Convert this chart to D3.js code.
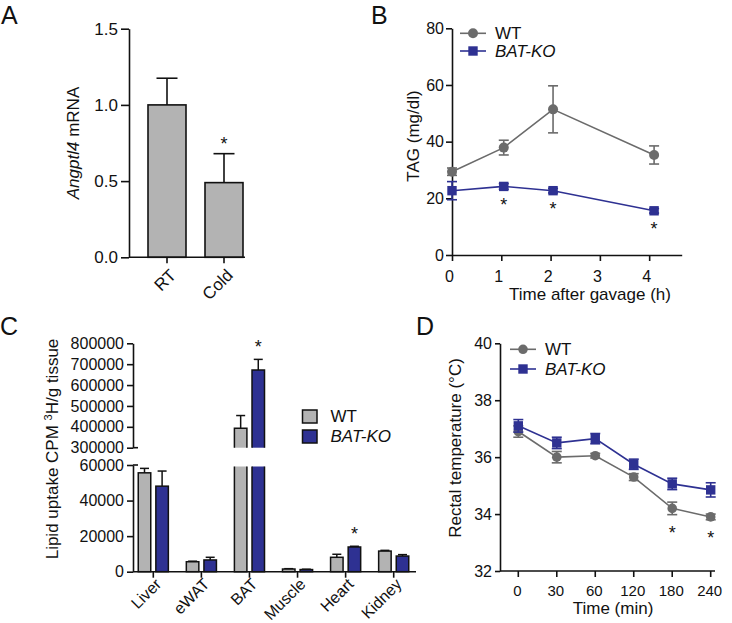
<!DOCTYPE html>
<html><head><meta charset="utf-8">
<script src="https://cdn.jsdelivr.net/npm/d3@7"></script>
<style>
body{margin:0;background:#fff}
text{font-family:"Liberation Sans",Arial,Helvetica,sans-serif;fill:#111}
</style>
</head><body>
<svg id="chart" width="732" height="623"></svg>
<script>
// ---------------- DATA ----------------
// Panel A
const aCategories = ["RT", "Cold"];
const aValues = [1.0, 0.49];
const aErrors = [0.175, 0.19];
const aSig = [false, true];
const aYTicks = [0, 0.5, 1.0, 1.5];

// Panel B
const bTimes = [0, 1.05, 2.05, 4.1];
const bWT = [29.4, 37.9, 51.4, 35.3];
const bWTerr = [1.3, 2.6, 8.3, 3.2];
const bKO = [22.7, 24.2, 22.7, 15.6];
const bKOerr = [3.2, 1.0, 0.8, 0.8];
const bSig = [false, true, true, true];
const bXTicks = [0, 1, 2, 3, 4];
const bYTicks = [0, 20, 40, 60, 80];

// Panel C
const cTissues = ["Liver", "eWAT", "BAT", "Muscle", "Heart", "Kidney"];
const cWT = [55600, 5600, 393000, 1500, 8100, 11600];
const cWTerr = [2500, 300, 61000, 200, 1700, 400];
const cKO = [48100, 6600, 672000, 1200, 13900, 8800];
const cKOerr = [8500, 1500, 51000, 200, 400, 800];
const cSig = [false, false, true, false, true, false];
const cYTicksLow = [0, 20000, 40000, 60000];
const cYTicksHigh = [300000, 400000, 500000, 600000, 700000, 800000];

// Panel D
const dTimes = ["0", "30", "60", "120", "180", "240"];
const dWT = [36.9, 36.0, 36.05, 35.3, 34.2, 33.9];
const dWTerr = [0.2, 0.2, 0.08, 0.12, 0.22, 0.1];
const dKO = [37.1, 36.5, 36.65, 35.75, 35.06, 34.85];
const dKOerr = [0.22, 0.2, 0.18, 0.18, 0.2, 0.25];
const dSig = [false, false, false, false, true, true];
const dYTicks = [32, 34, 36, 38, 40];

const seriesNames = ["WT", "BAT-KO"];

// ---------------- STYLE ----------------
const GRAY_BAR = "#b3b3b3";
const BLUE = "#2e3192";
const GRAY_LINE = "#6b6b6b";
const TICK_FS = 16, TITLE_FS = 17, LEG_FS = 17;

const svg = d3.select("#chart");

function styleAxis(g, fs) {
  g.select(".domain").attr("stroke", "#111").attr("stroke-width", 1.6);
  g.selectAll(".tick line").attr("stroke", "#111").attr("stroke-width", 1.6);
  g.selectAll(".tick text").attr("font-size", fs || TICK_FS)
    .attr("font-family", '"Liberation Sans",Arial,sans-serif').attr("fill", "#111");
}
function panelLabel(t, x, y) {
  svg.append("text").attr("x", x).attr("y", y).attr("font-size", 25).text(t);
}
function yTitle(x, y, parts) {
  const t = svg.append("text").attr("transform", `translate(${x},${y}) rotate(-90)`)
    .attr("text-anchor", "middle").attr("font-size", TITLE_FS);
  parts.forEach(p => {
    const s = t.append("tspan").text(p.t);
    if (p.i) s.attr("font-style", "italic");
    if (p.sup) s.attr("font-size", 11).attr("baseline-shift", "super");
  });
}
function star(x, y) {
  svg.append("text").attr("x", x).attr("y", y).attr("text-anchor", "middle")
    .attr("font-size", 18).text("*");
}

// ---------------- PANEL A ----------------
panelLabel("A", 1, 24);
{
  const y = d3.scaleLinear().domain([0, 1.5]).range([257.3, 28.7]);
  const x = d3.scalePoint().domain(aCategories).range([167, 224]);
  const bw = 38;
  const gx = 129, xEnd = 245;
  aCategories.forEach((c, i) => {
    svg.append("rect").attr("x", x(c) - bw / 2).attr("y", y(aValues[i]))
      .attr("width", bw).attr("height", y(0) - y(aValues[i]))
      .attr("fill", GRAY_BAR).attr("stroke", "#111").attr("stroke-width", 1.6);
    const top = y(aValues[i] + aErrors[i]);
    svg.append("line").attr("x1", x(c)).attr("x2", x(c)).attr("y1", y(aValues[i])).attr("y2", top)
      .attr("stroke", "#111").attr("stroke-width", 1.6);
    svg.append("line").attr("x1", x(c) - 10.5).attr("x2", x(c) + 10.5).attr("y1", top).attr("y2", top)
      .attr("stroke", "#111").attr("stroke-width", 1.6);
    if (aSig[i]) star(x(c), top - 4);
  });
  const ya = svg.append("g").attr("transform", `translate(${gx},0)`)
    .call(d3.axisLeft(y).tickValues(aYTicks).tickFormat(d3.format(".1f")).tickSize(8).tickSizeOuter(0).tickPadding(3));
  styleAxis(ya, 17);
  svg.append("line").attr("x1", gx).attr("x2", xEnd).attr("y1", y(0)).attr("y2", y(0))
    .attr("stroke", "#111").attr("stroke-width", 1.6);
  aCategories.forEach(c => {
    svg.append("line").attr("x1", x(c)).attr("x2", x(c)).attr("y1", y(0)).attr("y2", y(0) + 6)
      .attr("stroke", "#111").attr("stroke-width", 1.6);
    svg.append("text").attr("transform", `translate(${x(c) + 10},${y(0) + 19}) rotate(-45)`)
      .attr("text-anchor", "end").attr("font-size", 17).text(c);
  });
  yTitle(79, 143, [{t: "Angptl4", i: true}, {t: " mRNA"}]);
}

// ---------------- LINE PANEL helpers ----------------
function errLine(x, ylo, yhi, color, cap) {
  svg.append("line").attr("x1", x).attr("x2", x).attr("y1", ylo).attr("y2", yhi)
    .attr("stroke", color).attr("stroke-width", 1.6);
  [ylo, yhi].forEach(v => svg.append("line").attr("x1", x - cap).attr("x2", x + cap)
    .attr("y1", v).attr("y2", v).attr("stroke", color).attr("stroke-width", 1.6));
}
function drawSeries(xs, vals, errs, x, y, color, shape, r, cap) {
  const line = d3.line().x((d, i) => x(xs[i])).y(d => y(d));
  svg.append("path").datum(vals).attr("d", line).attr("fill", "none")
    .attr("stroke", color).attr("stroke-width", 1.6);
  vals.forEach((v, i) => errLine(x(xs[i]), y(v - errs[i]), y(v + errs[i]), color, cap));
  vals.forEach((v, i) => {
    if (shape === "circle") {
      svg.append("circle").attr("cx", x(xs[i])).attr("cy", y(v)).attr("r", r).attr("fill", color);
    } else {
      svg.append("rect").attr("x", x(xs[i]) - r).attr("y", y(v) - r)
        .attr("width", 2 * r).attr("height", 2 * r).attr("fill", color);
    }
  });
}
function lineLegend(x0, y0, gap, r1, r2) {
  const items = [{n: seriesNames[0], c: GRAY_LINE, s: "circle", r: r1, i: false},
                 {n: seriesNames[1], c: BLUE, s: "rect", r: r2, i: true}];
  items.forEach((it, k) => {
    const yy = y0 + k * gap;
    svg.append("line").attr("x1", x0).attr("x2", x0 + 26).attr("y1", yy).attr("y2", yy)
      .attr("stroke", it.c).attr("stroke-width", 1.6);
    if (it.s === "circle") svg.append("circle").attr("cx", x0 + 13).attr("cy", yy).attr("r", it.r).attr("fill", it.c);
    else svg.append("rect").attr("x", x0 + 13 - it.r).attr("y", yy - it.r).attr("width", 2 * it.r).attr("height", 2 * it.r).attr("fill", it.c);
    svg.append("text").attr("x", x0 + 35).attr("y", yy + 6).attr("font-size", LEG_FS)
      .attr("font-style", it.i ? "italic" : "normal").text(it.n);
  });
}

// ---------------- PANEL B ----------------
panelLabel("B", 371, 24);
{
  const x = d3.scaleLinear().domain([0, 4.66]).range([452, 681.7]);
  const y = d3.scaleLinear().domain([0, 80]).range([255, 28.3]);
  const ya = svg.append("g").attr("transform", `translate(452,0)`)
    .call(d3.axisLeft(y).tickValues(bYTicks).tickSize(6).tickSizeOuter(0).tickPadding(2));
  styleAxis(ya);
  const xa = svg.append("g").attr("transform", `translate(0,255)`)
    .call(d3.axisBottom(x).tickValues(bXTicks).tickFormat(d3.format("d")).tickSize(6).tickSizeOuter(0).tickPadding(10));
  styleAxis(xa);
  xa.selectAll(".tick text").attr("dx", -3);
  drawSeries(bTimes, bWT, bWTerr, x, y, GRAY_LINE, "circle", 5, 5);
  drawSeries(bTimes, bKO, bKOerr, x, y, BLUE, "rect", 4.7, 5);
  bTimes.forEach((t, i) => { if (bSig[i]) star(x(t), y(bKO[i] - bKOerr[i]) + 22); });
  lineLegend(460, 33.3, 17.7, 5, 4.7);
  yTitle(419, 136, [{t: "TAG (mg/dl)"}]);
  svg.append("text").attr("x", 590).attr("y", 300).attr("text-anchor", "middle")
    .attr("font-size", TITLE_FS).text("Time after gavage (h)");
}

// ---------------- PANEL C ----------------
panelLabel("C", 0, 335);
{
  const yLow = d3.scaleLinear().domain([0, 60000]).range([571.7, 465]);
  const yHigh = d3.scaleLinear().domain([300000, 800000]).range([447.7, 343.3]);
  const x = d3.scalePoint().domain(cTissues).range([153.3, 393.7]);
  const gx = 133, xEnd = 416;
  const bw = 12.5, off = 8.8;
  const yv = v => v <= 60000 ? yLow(v) : yHigh(v);

  function bar(cx, v, fill) {
    const l = cx - bw / 2, r = cx + bw / 2;
    if (v <= 60000) {
      svg.append("rect").attr("x", l).attr("y", yLow(v)).attr("width", bw).attr("height", yLow(0) - yLow(v))
        .attr("fill", fill).attr("stroke", "#111").attr("stroke-width", 1.5);
    } else {
      svg.append("rect").attr("x", l).attr("y", yLow(60000) + 1.5).attr("width", bw)
        .attr("height", yLow(0) - yLow(60000) - 1.5).attr("fill", fill);
      svg.append("path").attr("d", `M${l},${yLow(60000) + 1.5}V${yLow(0)}H${r}V${yLow(60000) + 1.5}`)
        .attr("fill", "none").attr("stroke", "#111").attr("stroke-width", 1.5);
      svg.append("rect").attr("x", l).attr("y", yHigh(v)).attr("width", bw)
        .attr("height", yHigh(300000) - yHigh(v)).attr("fill", fill);
      svg.append("path").attr("d", `M${l},${yHigh(300000)}V${yHigh(v)}H${r}V${yHigh(300000)}`)
        .attr("fill", "none").attr("stroke", "#111").attr("stroke-width", 1.5);
    }
  }
  function errUp(cx, v, e) {
    if (e <= 0) return;
    const t = yv(v + e);
    svg.append("line").attr("x1", cx).attr("x2", cx).attr("y1", yv(v)).attr("y2", t)
      .attr("stroke", "#111").attr("stroke-width", 1.5);
    svg.append("line").attr("x1", cx - 4.5).attr("x2", cx + 4.5).attr("y1", t).attr("y2", t)
      .attr("stroke", "#111").attr("stroke-width", 1.5);
  }
  cTissues.forEach((c, i) => {
    errUp(x(c) - off, cWT[i], cWTerr[i]);
    errUp(x(c) + off, cKO[i], cKOerr[i]);
    bar(x(c) - off, cWT[i], GRAY_BAR);
    bar(x(c) + off, cKO[i], BLUE);
    if (cSig[i]) star(x(c) + off, yv(cKO[i] + cKOerr[i]) - 6);
  });
  const fmt = d3.format("d");
  const ya1 = svg.append("g").attr("transform", `translate(${gx},0)`)
    .call(d3.axisLeft(yLow).tickValues(cYTicksLow).tickFormat(fmt).tickSize(6).tickSizeOuter(0).tickPadding(3));
  styleAxis(ya1);
  const ya2 = svg.append("g").attr("transform", `translate(${gx},0)`)
    .call(d3.axisLeft(yHigh).tickValues(cYTicksHigh).tickFormat(fmt).tickSize(6).tickSizeOuter(0).tickPadding(3));
  styleAxis(ya2);
  [yLow(60000), yHigh(300000)].forEach(v => svg.append("line").attr("x1", gx).attr("x2", gx + 5)
    .attr("y1", v).attr("y2", v).attr("stroke", "#111").attr("stroke-width", 1.6));
  svg.append("line").attr("x1", gx).attr("x2", xEnd).attr("y1", yLow(0)).attr("y2", yLow(0))
    .attr("stroke", "#111").attr("stroke-width", 1.6);
  cTissues.forEach(c => {
    svg.append("line").attr("x1", x(c)).attr("x2", x(c)).attr("y1", yLow(0)).attr("y2", yLow(0) + 6)
      .attr("stroke", "#111").attr("stroke-width", 1.6);
    svg.append("text").attr("transform", `translate(${x(c) + 9},${yLow(0) + 13.5}) rotate(-45)`)
      .attr("text-anchor", "end").attr("font-size", 16).text(c);
  });
  [[seriesNames[0], GRAY_BAR, false], [seriesNames[1], BLUE, true]].forEach((it, k) => {
    svg.append("rect").attr("x", 302.5).attr("y", 410 + k * 20).attr("width", 14.5).attr("height", 13)
      .attr("fill", it[1]).attr("stroke", "#111").attr("stroke-width", 1.5);
    svg.append("text").attr("x", 330.5).attr("y", 422 + k * 20).attr("font-size", LEG_FS)
      .attr("font-style", it[2] ? "italic" : "normal").text(it[0]);
  });
  yTitle(57.5, 449, [{t: "Lipid uptake CPM "}, {t: "3", sup: true}, {t: "H/g tissue"}]);
}

// ---------------- PANEL D ----------------
panelLabel("D", 416, 335);
{
  const x = d3.scalePoint().domain(dTimes).range([518.3, 710.7]);
  const y = d3.scaleLinear().domain([32, 40]).range([571, 343.3]);
  const ya = svg.append("g").attr("transform", `translate(500,0)`)
    .call(d3.axisLeft(y).tickValues(dYTicks).tickSize(5).tickSizeOuter(0).tickPadding(3));
  styleAxis(ya);
  svg.append("line").attr("x1", 500).attr("x2", 715).attr("y1", y(32)).attr("y2", y(32))
    .attr("stroke", "#111").attr("stroke-width", 1.6);
  dTimes.forEach(t => {
    svg.append("line").attr("x1", x(t)).attr("x2", x(t)).attr("y1", y(32)).attr("y2", y(32) + 6)
      .attr("stroke", "#111").attr("stroke-width", 1.6);
    svg.append("text").attr("x", x(t) - 1).attr("y", 595.5).attr("text-anchor", "middle")
      .attr("font-size", 15).text(t);
  });
  drawSeries(dTimes, dWT, dWTerr, x, y, GRAY_LINE, "circle", 4.8, 5);
  drawSeries(dTimes, dKO, dKOerr, x, y, BLUE, "rect", 4.7, 5);
  dTimes.forEach((t, i) => { if (dSig[i]) star(x(t), y(dWT[i] - dWTerr[i]) + 24); });
  lineLegend(510, 349.3, 19.7, 4.8, 4.7);
  yTitle(460.5, 448, [{t: "Rectal temperature (°C)"}]);
  svg.append("text").attr("x", 613).attr("y", 614).attr("text-anchor", "middle")
    .attr("font-size", TITLE_FS).text("Time (min)");
}
</script>
</body></html>
